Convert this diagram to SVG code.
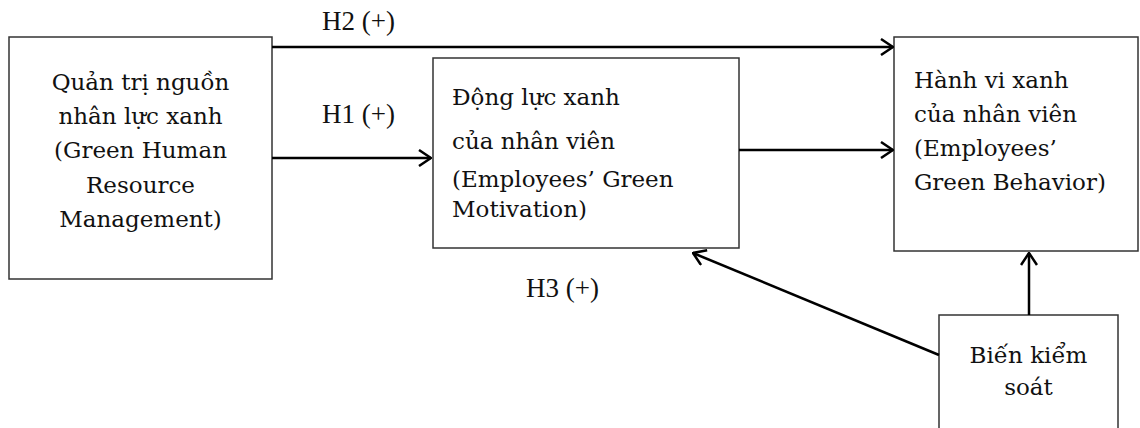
<svg xmlns="http://www.w3.org/2000/svg" width="1140" height="428" viewBox="0 0 1140 428">
<style>
.box{fill:#fff;stroke:#333;stroke-width:1.5}
.t{font-family:"DejaVu Serif","Liberation Serif",serif;font-size:23px;fill:#111}
.c{text-anchor:middle}
.lbl{font-family:"Liberation Serif","Times New Roman",serif;font-size:27px;fill:#111}
.ed{stroke:#000;stroke-width:2.5;fill:none;marker-end:url(#ah)}
</style>
<defs>
<marker id="ah" viewBox="0 0 14 18" refX="13" refY="9" markerWidth="14" markerHeight="18" markerUnits="userSpaceOnUse" orient="auto">
<path d="M1,1 L13,9 L1,17" fill="none" stroke="#000" stroke-width="2.5"/>
</marker>
</defs>
<g id="n-ghrm">
<rect class="box" x="9" y="37" width="263" height="242"/>
<text class="t c" x="140.5" y="90">Quản trị nguồn</text>
<text class="t c" x="140.5" y="124">nhân lực xanh</text>
<text class="t c" x="140.5" y="158">(Green Human</text>
<text class="t c" x="140.5" y="193">Resource</text>
<text class="t c" x="140.5" y="227">Management)</text>
</g>
<g id="n-motivation">
<rect class="box" x="433" y="58" width="306" height="190"/>
<text class="t" x="452" y="105">Động lực xanh</text>
<text class="t" x="452" y="149">của nhân viên</text>
<text class="t" x="452" y="187">(Employees’ Green</text>
<text class="t" x="452" y="217">Motivation)</text>
</g>
<g id="n-behavior">
<rect class="box" x="894" y="37" width="244" height="214"/>
<text class="t" x="914" y="88">Hành vi xanh</text>
<text class="t" x="914" y="122">của nhân viên</text>
<text class="t" x="914" y="156">(Employees’</text>
<text class="t" x="914" y="190">Green Behavior)</text>
</g>
<g id="n-control">
<rect class="box" x="939" y="315" width="179" height="125"/>
<text class="t c" x="1028.5" y="363">Biến kiểm</text>
<text class="t c" x="1028.5" y="395">soát</text>
</g>
<g id="connectors">
<line class="ed" x1="272" y1="47" x2="893" y2="47"/>
<line class="ed" x1="272" y1="158" x2="431" y2="158"/>
<line class="ed" x1="739" y1="150" x2="893" y2="150"/>
<line class="ed" x1="939" y1="355" x2="693" y2="253"/>
<line class="ed" x1="1029" y1="315" x2="1029" y2="253"/>
<text class="lbl" x="322" y="30">H2 (+)</text>
<text class="lbl" x="322" y="123">H1 (+)</text>
<text class="lbl" x="526" y="297">H3 (+)</text>
</g>
</svg>
